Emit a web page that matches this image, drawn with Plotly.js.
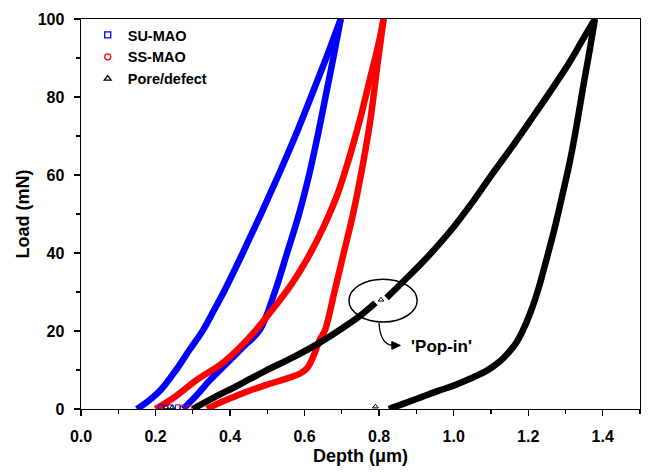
<!DOCTYPE html>
<html>
<head>
<meta charset="utf-8">
<script src="https://cdn.plot.ly/plotly-3.0.1.min.js"></script>
<style>html,body{margin:0;padding:0;background:#fff;}#chart{width:649px;height:472px;}</style>
</head>
<body>
<div id="chart"></div>
<script>
// ---- data (depth in µm, load in mN) ----
const seriesNames = ["SU-MAO", "SS-MAO", "Pore/defect"];

const suLoadX   = [0.150, 0.180, 0.215, 0.255, 0.290, 0.328, 0.355, 0.383, 0.434, 0.483, 0.530, 0.575, 0.617, 0.658, 0.697];
const suLoadY   = [0, 2, 5, 10, 15, 20.3, 25, 30, 40, 50, 60, 70, 80, 90, 100];
const suUnloadX = [0.697, 0.677, 0.656, 0.635, 0.612, 0.585, 0.553, 0.520, 0.480, 0.435, 0.392, 0.346, 0.310, 0.274];
const suUnloadY = [100, 90, 80, 70, 60, 50, 40, 30, 20.3, 15.9, 11.8, 7.4, 3.5, 0];

const ssLoadX   = [0.200, 0.250, 0.310, 0.380, 0.427, 0.470, 0.518, 0.565, 0.610, 0.650, 0.688, 0.720, 0.749, 0.775, 0.797, 0.812];
const ssLoadY   = [0, 3, 7.4, 11.8, 15.9, 20.3, 26, 32, 39, 46.5, 55, 64.5, 74.4, 84.5, 93, 100];
const ssUnloadX = [0.812, 0.795, 0.777, 0.755, 0.730, 0.705, 0.680, 0.655, 0.640, 0.623, 0.607, 0.588, 0.555, 0.498, 0.450, 0.410, 0.370, 0.338];
const ssUnloadY = [100, 88, 74.4, 62, 50, 40, 30, 20.3, 17.6, 13.4, 10.5, 9.1, 7.9, 6.2, 4.6, 3.1, 1.5, 0];

const pdLoadX   = [0.300, 0.350, 0.420, 0.495, 0.570, 0.635, 0.690, 0.745, 0.790, null, 0.820, 0.870, 0.928, 0.990, 1.050, 1.100, 1.155, 1.209, 1.260, 1.305, 1.345, 1.379];
const pdLoadY   = [0, 2.6, 6, 9.8, 13.3, 16.7, 20, 23.6, 27.2, null, 28.5, 33.2, 38.8, 45.5, 53, 59.8, 67, 74.4, 81.5, 88, 94.5, 100];
const pdUnloadX = [1.379, 1.365, 1.350, 1.333, 1.313, 1.292, 1.270, 1.248, 1.228, 1.207, 1.185, 1.168, 1.150, 1.125, 1.090, 1.045, 1.000, 0.960, 0.915, 0.870, 0.826];
const pdUnloadY = [100, 92, 84, 74.4, 64, 55, 46, 38, 31, 25, 20, 17, 14.8, 12.3, 9.9, 7.8, 6.0, 4.7, 3.1, 1.5, 0];

// isolated points near the axis / at the pop-in
const suLooseX = [0.215, 0.240, 0.260];
const suLooseY = [0.4, 0.4, 0.4];
const ssLooseX = [0.270, 0.290];
const ssLooseY = [0.4, 0.4];
const pdLooseX = [0.228, 0.245, 0.790, 0.805];
const pdLooseY = [0.4, 0.4, 0.6, 28.0];

const colors  = ["#0000ff", "#ff0000", "#000000"];
const symbols = ["square-open", "circle-open", "triangle-up-open"];

const FONT = "Liberation Sans, Arial, Helvetica, sans-serif";

function band(x, y, c) {
  return {x: x, y: y, type: "scatter", mode: "lines", showlegend: false, hoverinfo: "skip",
          connectgaps: false, line: {color: c, width: 6.5, shape: "spline", smoothing: 1}};
}
function loose(x, y, c, s) {
  return {x: x, y: y, type: "scatter", mode: "markers", showlegend: false, hoverinfo: "skip",
          marker: {symbol: s, size: 5, color: c, line: {color: c, width: 1}}};
}
function legendItem(i) {
  return {x: [null], y: [null], type: "scatter", mode: "markers", name: seriesNames[i],
          marker: {symbol: symbols[i], size: 6, color: colors[i], line: {color: colors[i], width: 1.3}}};
}

const traces = [
  band(suLoadX, suLoadY, colors[0]), band(suUnloadX, suUnloadY, colors[0]),
  band(ssLoadX, ssLoadY, colors[1]), band(ssUnloadX, ssUnloadY, colors[1]),
  band(pdLoadX, pdLoadY, colors[2]), band(pdUnloadX, pdUnloadY, colors[2]),
  loose(suLooseX, suLooseY, colors[0], symbols[0]),
  loose(ssLooseX, ssLooseY, colors[1], symbols[1]),
  loose(pdLooseX, pdLooseY, colors[2], symbols[2]),
  legendItem(0), legendItem(1), legendItem(2)
];

const axisCommon = {
  showgrid: false, zeroline: false, showline: true, mirror: true,
  linecolor: "#000", linewidth: 1.4, ticks: "outside", ticklen: 6, tickwidth: 1.3, tickcolor: "#000",
  tickfont: {family: FONT, size: 16, color: "#000", weight: "bold"}
};

const layout = {
  width: 649, height: 472,
  margin: {l: 81, r: 9, t: 19, b: 63, pad: 0},
  paper_bgcolor: "#fff", plot_bgcolor: "#fff",
  font: {family: FONT, color: "#000"},
  xaxis: Object.assign({}, axisCommon, {
    range: [0, 1.5], dtick: 0.2, tick0: 0, tickformat: ".1f", ticklabelstandoff: 6,
    minor: {dtick: 0.1, ticklen: 4, tickwidth: 1.2, tickcolor: "#000", ticks: "outside"},
    title: {text: "Depth (μm)", font: {family: FONT, size: 18, weight: "bold", color: "#000"}, standoff: 6}
  }),
  yaxis: Object.assign({}, axisCommon, {
    range: [0, 100], dtick: 20, tick0: 0, ticklabelstandoff: 6,
    minor: {dtick: 10, ticklen: 3.5, tickwidth: 1.2, tickcolor: "#000", ticks: "outside"},
    title: {text: "Load (mN)", font: {family: FONT, size: 18, weight: "bold", color: "#000"}, standoff: 3}
  }),
  legend: {x: 0.012, y: 1.0, xanchor: "left", yanchor: "top", bgcolor: "rgba(0,0,0,0)",
           font: {family: FONT, size: 14.5, weight: "bold", color: "#000"}, tracegroupgap: 0, itemwidth: 30},
  shapes: [
    {type: "circle", xref: "x", yref: "y", x0: 0.719, x1: 0.902, y0: 22.3, y1: 33.3,
     line: {color: "#000", width: 1.5}},
    {type: "path", xref: "x", yref: "y", path: "M 0.7996,22.05 Q 0.803,16.6 0.836,16.3",
     line: {color: "#000", width: 1.3}},
    {type: "path", xref: "x", yref: "y", path: "M 0.857,16.3 L 0.834,17.3 L 0.834,15.3 Z",
     fillcolor: "#000", line: {color: "#000", width: 1}}
  ],
  annotations: [
    {x: 0.9686, y: 15.9, xref: "x", yref: "y", text: "'Pop-in'", showarrow: false,
     font: {family: FONT, size: 17, weight: "bold", color: "#000"}}
  ]
};

Plotly.newPlot("chart", traces, layout, {displayModeBar: false, staticPlot: true});
</script>
</body>
</html>
